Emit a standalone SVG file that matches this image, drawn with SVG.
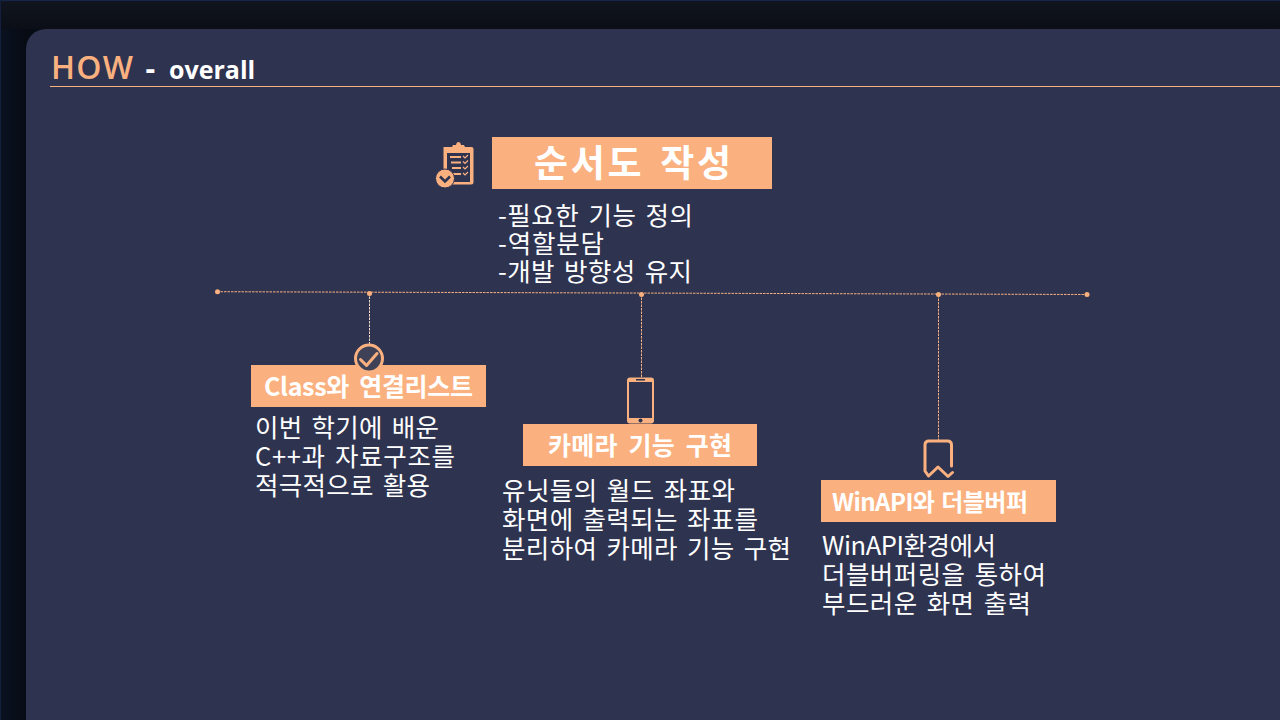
<svg xmlns="http://www.w3.org/2000/svg" width="1280" height="720" viewBox="0 0 1280 720">
<defs>
<linearGradient id="bg" x1="0" y1="0" x2="1" y2="0"><stop offset="0" stop-color="#0a1120"/><stop offset="0.02" stop-color="#070b14"/><stop offset="1" stop-color="#0f131f"/></linearGradient>
<linearGradient id="bgtop" x1="0" y1="0" x2="0" y2="1"><stop offset="0" stop-color="#10151f"/><stop offset="1" stop-color="#0b0e17"/></linearGradient>
</defs>
<style>
text{font-family:"Noto Sans CJK KR","Noto Sans",sans-serif}
.body{font-size:25.500px;fill:#fff;word-spacing:3px}
.head{font-weight:700;fill:#fff;word-spacing:5px}
.latin{font-family:"Open Sans","Noto Sans",sans-serif}
.box{fill:#fab17f}
.dash{fill:none;stroke:#fab17f;stroke-width:1;stroke-dasharray:2.500 1}
.dashw{fill:none;stroke:#f0d8c8;stroke-width:1;stroke-dasharray:2.500 1}
.dot{fill:#fab17f}
.ico{fill:none;stroke:#fab17f;stroke-width:3;stroke-linecap:round;stroke-linejoin:round}
</style>
<rect width="1280" height="720" fill="url(#bg)"/>
<rect width="1280" height="29" fill="url(#bgtop)"/>
<rect x="0" y="0" width="1280" height="1" fill="#16264a"/>
<rect x="0" y="0" width="1" height="720" fill="#12203d"/>
<path d="M46 29H1280V720H26V49A20 20 0 0 1 46 29Z" fill="#2e3350"/>
<g id="title">
<text class="latin" x="51" y="79" font-size="32" font-weight="600" fill="#fab17f" textLength="82">HOW</text>
<text class="latin" x="145.500" y="79" font-size="30" font-weight="700" fill="#fff">-</text>
<text class="latin" x="169" y="79" font-size="25" font-weight="700" fill="#fff">overall</text>
<rect x="50" y="86" width="1230" height="1" fill="#fab17f"/>
</g>
<g id="connectors">
<path class="dash" d="M217 291.700L1087 294.500"/>
<path class="dashw" d="M369.500 293V346"/>
<path class="dash" d="M641.500 294V377"/>
<path class="dash" d="M938.500 295V440"/>
<circle class="dot" cx="217.500" cy="291.700" r="2.500"/>
<circle class="dot" cx="369.500" cy="293.500" r="2.500"/>
<circle class="dot" cx="641.500" cy="294.500" r="2.500"/>
<circle class="dot" cx="938.500" cy="294.500" r="2.500"/>
<circle class="dot" cx="1087" cy="294.500" r="2.500"/>
</g>
<g id="node-flowchart">
<g id="icon-clipboard">
<path d="M445 147H452L453 145H456Q456.500 142 458.500 142Q460.500 142 461 145H464L465 147H471.500Q473.500 147 473.500 149V182Q473.500 184.500 471 184.500H450V186H445Z" fill="#fab17f"/>
<rect x="443.500" y="147" width="4" height="24" fill="#fab17f"/>
<rect x="447" y="153" width="23" height="29" fill="#2e3350"/>
<path d="M450 157H461M451 162.500H461M452 168H461M453 174H461" stroke="#fab17f" stroke-width="1.800" fill="none"/>
<path d="M463 156l2 2 3-3M463 161.500l2 2 3-3M463 167l2 2 3-3M463 173l2 2 3-3" stroke="#fab17f" stroke-width="1.200" fill="none"/>
<circle cx="445" cy="178.500" r="9.500" fill="#fab17f" stroke="#2e3350" stroke-width="1"/>
<path d="M440 176.500l5 5 5-5" stroke="#2e3350" stroke-width="2.500" fill="none"/>
</g>
<rect class="box" x="492" y="137" width="280" height="52"/>
<text class="head" x="534" y="177" font-size="37" textLength="197">순서도 작성</text>
<text class="body" x="498" y="225" textLength="195">-필요한 기능 정의</text>
<text class="body" x="498" y="253" textLength="106">-역할분담</text>
<text class="body" x="498" y="281" textLength="194">-개발 방향성 유지</text>
</g>
<g id="node-class">
<rect class="box" x="251" y="365" width="235" height="42"/>
<circle cx="369" cy="358.500" r="13.500" fill="#3f4257" stroke="#fab17f" stroke-width="3"/>
<path class="ico" d="M360.500 359.500l6 6 10.500-12"/>
<text class="head" x="264" y="396" font-size="25" textLength="209">Class와 연결리스트</text>
<text class="body" x="255" y="437" textLength="184">이번 학기에 배운</text>
<text class="body" x="255" y="466" textLength="200">C++과 자료구조를</text>
<text class="body" x="255" y="495" textLength="175">적극적으로 활용</text>
</g>
<g id="node-camera">
<rect x="628" y="378.500" width="25" height="44" rx="2" fill="#2e3350" stroke="#fab17f" stroke-width="2"/>
<rect x="628" y="378" width="25" height="4" fill="#fab17f"/>
<rect x="628" y="418" width="25" height="5" fill="#fab17f"/>
<rect x="636" y="379" width="9" height="1.500" fill="#2e3350"/>
<circle cx="640.500" cy="420.500" r="2" fill="#2e3350"/>
<rect class="box" x="523" y="424" width="234" height="42"/>
<text class="head" x="548" y="455" font-size="25" textLength="184">카메라 기능 구현</text>
<text class="body" x="502" y="500" textLength="233">유닛들의 월드 좌표와</text>
<text class="body" x="502" y="529" textLength="256">화면에 출력되는 좌표를</text>
<text class="body" x="502" y="558" textLength="289">분리하여 카메라 기능 구현</text>
</g>
<g id="node-winapi">
<path class="ico" d="M951.500 466V445Q951.500 441 947.500 441H929Q925 441 925 445V471L928.500 476L938 467L948 476.500L952.500 472.500"/>
<rect class="box" x="821" y="480" width="235" height="42"/>
<text class="head" x="832" y="511" font-size="24" textLength="196" style="word-spacing:2px">WinAPI와 더블버퍼</text>
<text class="body" x="822" y="555" textLength="174">WinAPI환경에서</text>
<text class="body" x="822" y="584" textLength="224">더블버퍼링을 통하여</text>
<text class="body" x="822" y="613" textLength="209">부드러운 화면 출력</text>
</g>
</svg>
